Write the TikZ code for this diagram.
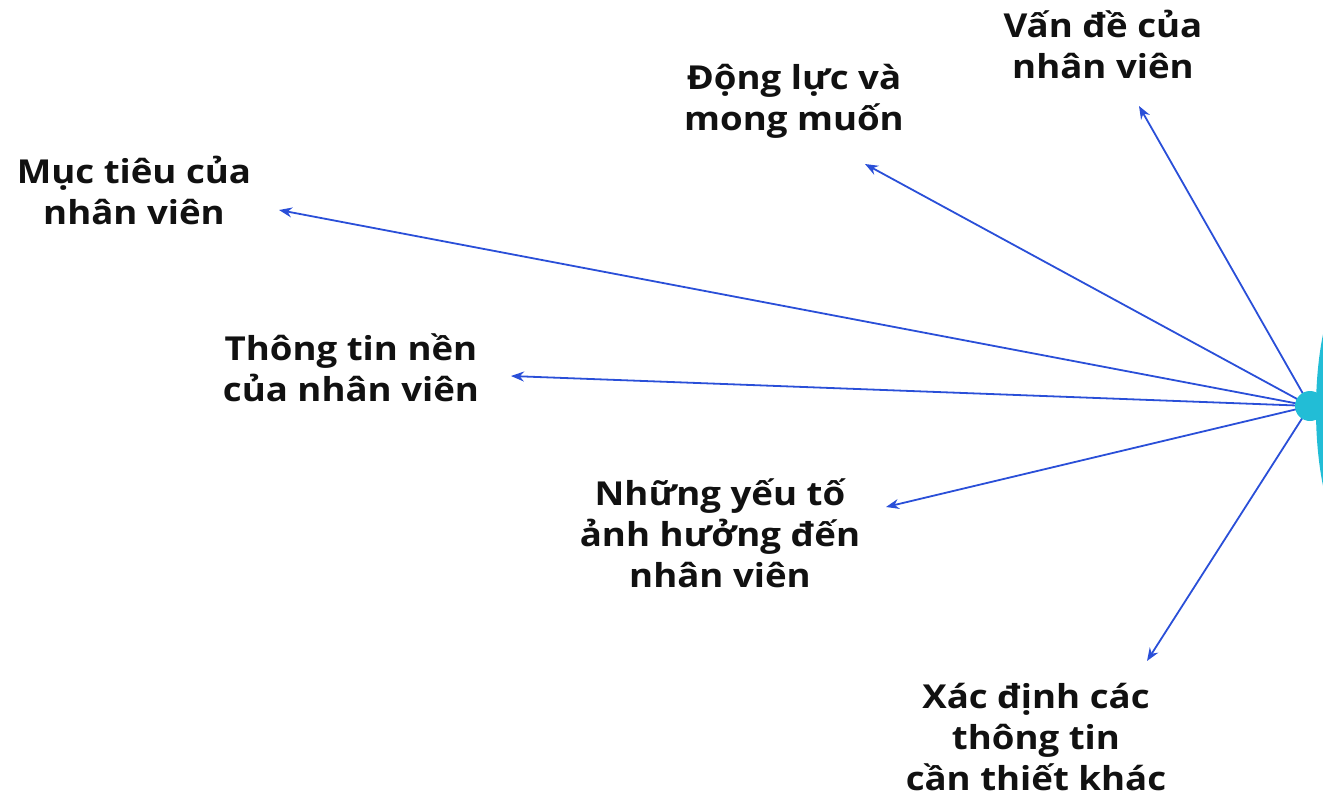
\documentclass[tikz,border=0pt]{standalone}
\usepackage{fontspec}
\setmainfont{Open Sans}[FakeStretch=1.11]
\usetikzlibrary{arrows.meta}
\definecolor{arr}{HTML}{2A4FD8}
\definecolor{cy}{HTML}{22BDD6}
\definecolor{tx}{HTML}{111111}
\tikzset{
  lbl/.style={font=\fontsize{33}{41}\selectfont\bfseries, text=tx, align=center, inner sep=0pt},
  conn/.style={draw=arr, line width=1.8pt, -{Stealth[length=13pt,width=10pt]}},
}
\begin{document}
\begin{tikzpicture}[x=1pt,y=-1pt]
\useasboundingbox (0,0) rectangle (1323,796);
\fill[cy] (1360,410) ellipse [x radius=44, y radius=140];
\coordinate (hub) at (1310,406);
\node[lbl] (t1) at (1103,44) {Vấn đề của\\nhân viên};
\node[lbl] (t2) at (794,101) {Động lực và\\mong muốn};
\node[lbl] (t3) at (134,190) {Mục tiêu của\\nhân viên};
\node[lbl] (t4) at (351,368) {Thông tin nền\\của nhân viên};
\node[lbl] (t5) at (720,533) {Những yếu tố\\ảnh hưởng đến\\nhân viên};
\node[lbl] (t6) at (1036,737) {Xác định các\\thông tin\\cần thiết khác};
\coordinate (e1) at (1139,106);
\coordinate (e2) at (865,164);
\coordinate (e3) at (279,210);
\coordinate (e4) at (511,376);
\coordinate (e5) at (886,507);
\coordinate (e6) at (1147,661);
\foreach \e in {e1,e2,e3,e4,e5,e6} \draw[conn] (hub) -- (\e);
\fill[cy] (hub) circle (15);
\end{tikzpicture}
\end{document}
